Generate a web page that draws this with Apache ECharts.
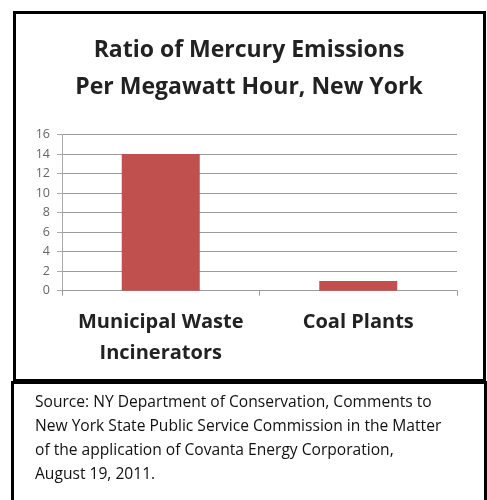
<!DOCTYPE html>
<html>
<head>
<meta charset="utf-8">
<script src="https://cdn.jsdelivr.net/npm/echarts@6/dist/echarts.min.js"></script>
<style>html,body{margin:0;padding:0;background:#fff;}#c{width:487px;height:500px;}</style>
</head>
<body>
<div id="c"></div>
<script>
const titleLines = ["Ratio of Mercury Emissions", "Per Megawatt Hour, New York"];
const categories = ["Municipal Waste\nIncinerators", "Coal Plants"];
const values = [14, 1];
const sourceLines = [
  "Source: NY Department of Conservation, Comments to",
  "New York State Public Service Commission in the Matter",
  "of the application of Covanta Energy Corporation,",
  "August 19, 2011."
];

const chart = echarts.init(document.getElementById('c'), null, {renderer: 'canvas'});
const graphics = [
  {type:'rect', shape:{x:14.5, y:12.5, width:470, height:368}, style:{fill:'none', stroke:'#000', lineWidth:3}, z:10},
  {type:'rect', shape:{x:12.5, y:382.5, width:473, height:130}, style:{fill:'#fff', stroke:'#000', lineWidth:3}, z:11}
];
titleLines.forEach((t, i) => {
  graphics.push({type:'text', x:249, y:50 + i*37, z:12,
    style:{text:t, fill:'#222', font:'bold 23px "Open Sans"', textAlign:'center', textVerticalAlign:'middle'}});
});
sourceLines.forEach((t, i) => {
  graphics.push({type:'text', x:35, y:403 + i*24, z:12,
    style:{text:t, fill:'#111', font:'15.6px "Open Sans"', textVerticalAlign:'middle'}});
});

chart.setOption({
  animation: false,
  grid: {left: 62, right: 30, top: 134.5, bottom: 209.3, containLabel: false},
  xAxis: {
    type: 'category', data: categories,
    axisLine: {lineStyle: {color: '#999'}},
    axisTick: {show: true, length: 5, lineStyle: {color: '#999'}},
    axisLabel: {interval: 0, hideOverlap: false, fontFamily: 'Open Sans', fontWeight: 'bold', fontSize: 20, color: '#222', margin: 16, lineHeight: 31}
  },
  yAxis: {
    type: 'value', min: 0, max: 16, interval: 2,
    axisLine: {show: true, lineStyle: {color: '#aaa'}},
    axisTick: {show: true, length: 5, lineStyle: {color: '#aaa'}},
    splitLine: {lineStyle: {color: '#999', width: 1}},
    axisLabel: {fontFamily: 'Open Sans', fontSize: 12.5, color: '#666', margin: 12}
  },
  series: [{
    type: 'bar', data: values, barWidth: 78,
    itemStyle: {color: '#c0504d'}
  }],
  graphic: graphics
});
</script>
</body>
</html>
